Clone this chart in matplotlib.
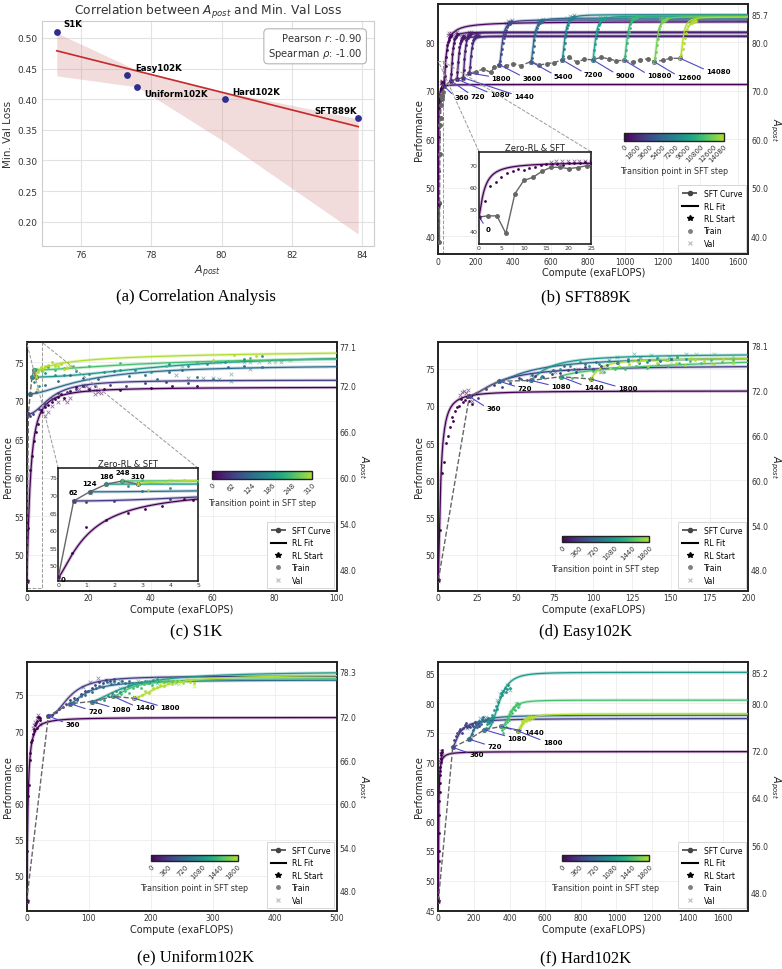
import numpy as np
import matplotlib
matplotlib.use("Agg")
import matplotlib.pyplot as plt
from matplotlib.colors import Normalize, ListedColormap
from matplotlib.cm import ScalarMappable
from matplotlib.lines import Line2D
from mpl_toolkits.axes_grid1.inset_locator import mark_inset

W, H = 782, 970

# ---------------- (a) correlation ----------------
NAMES = ["S1K", "Easy102K", "Uniform102K", "Hard102K", "SFT889K"]
A_POST = [75.3, 77.3, 77.6, 80.1, 83.9]
VAL_LOSS = [0.51, 0.44, 0.42, 0.40, 0.37]
BAND_X = [75.3, 77.6, 80.1, 83.9]
BAND_HI = [0.508, 0.447, 0.412, 0.368]
BAND_LO = [0.438, 0.420, 0.330, 0.180]

# ---------------- (b) SFT889K ----------------
B_STEPS = [0, 360, 720, 1080, 1440, 1800, 3600, 5400, 7200, 9000, 10800, 12600, 14080]
B_CBAR_TICKS = [0, 1800, 3600, 5400, 7200, 9000, 10800, 12600, 14080]
B_START_X = [0, 33, 66, 99, 132, 166, 326, 495, 661, 825, 994, 1154, 1293]
B_START_Y = [46.5, 70.9, 72.1, 72.4, 72.7, 73.7, 75.4, 76.0, 76.4, 76.4, 76.3, 76.0, 76.7]
B_ASYM = [71.3, 84.3, 82.1, 81.2, 82.0, 81.3, 84.6, 85.0, 85.7, 85.4, 85.6, 85.3, 85.2]
B_MID = [1.2, 10, 10, 10, 10, 10, 16, 16, 16, 16, 16, 16, 16]
B_EXP = [1.3, 1.0, 2, 2, 2, 2, 2, 2, 2, 2, 2, 2, 2]
B_END = [25, 70, 105, 140, 175, 215, 395, 560, 725, 890, 1060, 1220, 1380]
B_VAL_FROM = [16, 50, 85, 120, 155, 195, 360, 525, 690, 855, 1025, 1185, 1345]
B_TRAIN = [
    [53.5, 60.5, 62.5, 64.5, 66.5, 67.5, 68.2, 67.8, 68.5, 69.2, 70.0, 70.5, 70.3, 70.6, 70.1, 70.8, 71.0, 70.9, 71.2, 70.8],
    [73.0, 75.2, 77.0, 78.4, 79.5, 80.1, 80.8, 80.5, 81.2, 81.0, 81.6, 81.3],
    [73.5, 75.8, 77.6, 78.9, 79.8, 80.6, 80.9, 81.4, 81.1, 81.7, 81.5, 81.8],
    [73.8, 76.0, 77.8, 79.0, 79.9, 80.5, 80.3, 80.9, 81.2, 80.8, 81.1, 81.3],
    [74.2, 76.5, 78.2, 79.5, 80.4, 81.0, 80.8, 81.5, 81.2, 81.8, 81.6, 82.0],
    [75.0, 77.2, 78.8, 79.8, 80.5, 80.9, 81.3, 81.0, 81.5, 81.2, 81.6, 81.4],
    [76.2, 77.5, 78.6, 79.8, 80.9, 81.8, 82.5, 83.1, 83.6, 83.9, 84.2, 83.8, 84.3, 84.1],
    [76.8, 78.0, 79.2, 80.4, 81.5, 82.3, 83.0, 83.5, 83.9, 84.3, 84.0, 84.5, 84.2, 84.6],
    [77.2, 78.6, 79.9, 81.0, 82.0, 82.9, 83.6, 84.2, 84.6, 85.0, 84.8, 85.3, 85.0, 85.4],
    [77.0, 78.4, 79.6, 80.8, 81.9, 82.8, 83.5, 84.0, 84.4, 84.8, 84.6, 85.0, 84.7, 85.1],
    [77.1, 78.5, 79.8, 81.0, 82.1, 83.0, 83.7, 84.2, 84.7, 85.0, 84.8, 85.2, 85.0, 85.3],
    [76.8, 78.1, 79.4, 80.6, 81.8, 82.7, 83.4, 83.9, 84.3, 84.6, 84.4, 84.9, 84.6, 85.0],
    [77.4, 78.6, 79.8, 80.9, 81.9, 82.7, 83.3, 83.8, 84.2, 84.0, 84.4, 84.1, 84.5, 84.3],
]
B_VAL = [
    [71.6, 71.9, 71.8, 72.0, 71.7, 71.9, 71.8, 71.5],
    [81.5, 81.9, 81.6, 82.0], [81.4, 81.9, 82.1, 81.7], [81.0, 81.4, 81.2, 81.6],
    [81.7, 82.1, 81.8, 82.2], [81.5, 81.8, 81.2, 81.6], [84.0, 84.4, 84.2, 84.5],
    [84.3, 84.7, 84.4, 84.8], [85.0, 85.5, 85.2, 85.6], [84.9, 85.3, 85.0, 85.2],
    [85.1, 85.4, 85.0, 85.3], [84.8, 85.1, 84.7, 85.0], [84.2, 84.6, 84.3, 84.5],
]
B_SFT_X = [0, 2, 4, 6, 8, 10, 12, 14, 16, 18, 20, 22, 24, 33, 66, 99, 132, 166, 200, 240, 280,
           300, 326, 360, 400, 440, 495, 540, 580, 620, 661, 700, 740, 780, 825, 870, 910, 950,
           994, 1040, 1080, 1120, 1154, 1200, 1240, 1293]
B_SFT_Y = [46.4, 46.9, 46.9, 38.9, 56.9, 63.0, 64.4, 67.1, 69.0, 69.0, 68.4, 68.9, 69.7, 70.9,
           72.1, 72.4, 72.7, 73.7, 73.9, 74.5, 73.8, 74.9, 75.4, 75.1, 75.6, 75.2, 76.0, 75.3,
           75.6, 75.8, 76.4, 76.9, 75.9, 76.5, 76.4, 76.9, 76.6, 76.2, 76.3, 75.9, 76.4, 76.6,
           76.0, 76.3, 76.7, 76.7]

# ---------------- (c) S1K ----------------
C_STEPS = [0, 62, 124, 186, 248, 310]
C_START_X = [0, 0.55, 1.12, 1.72, 2.29, 2.84]
C_START_Y = [46.6, 68.3, 70.9, 73.1, 74.0, 73.1]
C_ASYM = [71.8, 72.7, 74.7, 76.0, 75.8, 77.1]
C_MID = [1.1, 7.5, 19, 45, 40, 12]
C_EXP = [1.33, 2.0, 1.6, 2.0, 1.5, 0.6]
C_TRAIN_X = [
    [0.5, 1.0, 1.7, 2.5, 3.1, 3.7, 4.5, 4.8, 6, 7, 8, 9, 10, 11, 12, 14, 16, 18, 20, 25, 30, 40, 47, 55],
    [1, 2, 4, 6, 8, 10, 13, 16, 18, 22, 27, 32, 38, 45, 52],
    [3, 6, 10, 14, 18, 23, 28, 33, 38, 42, 46, 50, 55, 60, 65, 70, 76],
    [2.5, 4, 6, 9, 12, 16, 20, 25, 30, 35, 40, 46, 52, 58, 64, 70, 76],
    [3, 5, 7, 9, 12, 15, 20, 30, 45, 55, 65, 72],
    [3.2, 3.8, 4.5, 5.2, 6, 7, 8, 9, 10, 11, 12, 13, 14, 60, 67, 74],
]
C_TRAIN_Y = [
    [53.5, 61.0, 62.8, 64.8, 66.0, 67.0, 68.8, 68.5, 69.2, 69.5, 69.9, 70.3, 70.5, 70.9, 70.4, 71.3, 71.8, 72.0, 71.6, 71.5, 71.4, 71.7, 72.0, 71.9],
    [68.0, 68.3, 69.0, 69.6, 70.2, 71.0, 71.2, 71.5, 71.9, 72.0, 72.1, 71.9, 72.3, 72.5, 72.3],
    [71.2, 72.1, 72.6, 73.4, 73.0, 72.8, 73.9, 73.3, 73.4, 72.8, 73.7, 74.0, 73.1, 72.8, 74.4, 74.6, 74.4],
    [72.5, 72.0, 73.6, 73.4, 73.4, 73.9, 73.5, 73.8, 74.0, 74.0, 73.7, 74.8, 74.5, 74.8, 75.0, 75.5, 75.8],
    [74.2, 73.9, 74.4, 74.0, 74.3, 74.5, 74.6, 74.9, 74.5, 75.0, 75.2, 75.6],
    [71.5, 73.8, 74.4, 74.0, 74.6, 74.7, 75.0, 74.6, 74.5, 74.8, 74.1, 74.3, 74.6, 75.3, 76.0, 75.9],
]
C_VAL_X = [
    [6, 7, 8, 10, 12, 13, 14, 17, 19, 20, 22, 23, 24],
    [18, 20, 22],
    [48, 52, 57, 62, 66, 72],
    [50, 55, 60, 66, 70, 72, 78, 82],
    [62, 68, 75, 80, 85],
    [4, 6, 9, 11, 13],
]
C_VAL_Y = [
    [68.0, 68.5, 69.3, 69.8, 70.3, 69.8, 70.4, 71.6, 71.9, 71.4, 70.9, 71.2, 71.0],
    [72.1, 71.7, 71.4],
    [73.4, 73.0, 73.0, 72.9, 72.6, 74.2],
    [74.6, 74.9, 73.0, 73.5, 75.1, 75.0, 75.1, 75.1],
    [75.0, 75.2, 75.0, 75.1, 75.3],
    [74.2, 74.4, 74.8, 74.9, 74.5],
]

# ---------------- (d) Easy102K ----------------
D_STEPS = [0, 360, 720, 1080, 1440, 1800]
D_START_X = [0, 20.0, 39.4, 59.8, 79.1, 98.4]
D_START_Y = [46.6, 71.25, 73.3, 73.4, 73.9, 73.6]
D_ASYM = [72.0, 75.4, 76.6, 77.0, 78.1, 76.4]
D_MID = [1.5, 20, 25, 12, 150, 6]
D_EXP = [1.4, 1.5, 1.3, 1.2, 0.7, 1.2]
D_END = [22, 105, 150, 160, 190, 190]
D_VAL_FROM = [14, 60, 110, 115, 130, 150]
D_TRAIN = [
    [53.3, 61.0, 62.4, 65.0, 66.0, 67.2, 68.5, 68.0, 69.3, 69.8, 70.0, 70.9, 70.5, 70.8, 71.2, 70.6, 71.3, 70.3],
    [71.0, 72.2, 72.8, 72.5, 73.1, 73.7, 73.4, 74.0, 73.8, 74.3, 74.4, 74.8, 74.6, 75.2, 75.0, 75.4],
    [73.0, 73.6, 74.2, 74.0, 74.8, 75.3, 75.0, 75.6, 75.9, 75.5, 75.7, 76.0, 75.8, 76.2, 76.0, 76.3],
    [73.8, 74.5, 75.0, 75.4, 75.9, 75.3, 75.6, 76.0, 75.8, 76.3, 76.1, 75.9, 76.4, 76.2, 76.5, 76.3],
    [73.7, 74.2, 74.7, 74.5, 75.0, 74.9, 75.3, 75.1, 75.6, 75.4, 75.8, 76.0, 75.7, 76.1, 75.9, 76.2],
    [74.6, 75.1, 75.3, 75.6, 75.9, 75.4, 75.8, 76.1, 75.7, 75.5, 76.2, 76.0, 75.6, 76.3, 75.8],
]
D_VAL = [
    [71.5, 71.9, 72.0, 71.7, 72.1, 71.3, 70.6],
    [74.2, 74.6, 75.0, 74.5],
    [76.2, 76.5, 76.3],
    [76.6, 76.9, 76.8, 76.6, 77.0],
    [76.4, 76.6, 76.5, 76.9, 77.0, 76.7],
    [75.9, 76.5, 75.6, 75.9],
]

# ---------------- (e) Uniform102K ----------------
E_STEPS = [0, 360, 720, 1080, 1440, 1800]
E_START_X = [0, 34.9, 69.8, 104.8, 139.8, 173.1]
E_START_Y = [46.6, 72.1, 73.8, 74.1, 74.8, 74.55]
E_ASYM = [71.9, 77.6, 77.1, 78.3, 77.3, 77.8]
E_MID = [2, 35, 30, 60, 30, 45]
E_EXP = [1.3, 2.2, 1.5, 1.5, 1.5, 1.6]
E_END = [22, 140, 165, 210, 240, 270]
E_VAL_FROM = [10, 90, 120, 150, 190, 220]
E_TRAIN = [
    [53.5, 61.0, 62.5, 66.0, 67.0, 68.5, 68.8, 69.6, 70.3, 70.0, 70.8, 71.2, 70.5, 71.4, 71.9, 72.0, 71.6, 71.8],
    [72.3, 72.6, 73.0, 73.4, 73.7, 74.3, 74.6, 74.4, 75.1, 75.5, 75.6, 76.0, 76.4, 76.8, 76.6, 77.1, 76.9, 77.2],
    [73.9, 74.3, 74.8, 75.0, 75.6, 75.4, 76.0, 76.3, 76.1, 76.8, 76.5, 76.9, 76.6, 77.0, 76.7, 76.9],
    [74.0, 74.4, 74.3, 74.9, 75.3, 75.6, 75.4, 76.0, 76.2, 76.6, 76.3, 76.8, 77.0, 76.7, 77.1, 77.2],
    [74.8, 75.2, 75.6, 75.3, 75.9, 76.2, 76.0, 76.5, 76.7, 76.4, 76.9, 77.1, 76.8, 77.2, 76.9, 77.0],
    [74.7, 75.0, 75.5, 75.3, 75.9, 76.1, 76.4, 76.2, 76.7, 76.5, 76.9, 77.0, 76.6, 77.2, 76.8, 76.6],
]
E_VAL = [
    [70.4, 70.9, 71.3, 71.8, 72.2, 71.5, 71.0],
    [76.1, 76.8, 77.3, 77.1, 76.7],
    [76.3, 76.8, 77.0, 76.5],
    [76.0, 76.4, 76.9, 77.0, 76.7],
    [76.8, 77.3, 77.0, 76.6],
    [76.7, 77.1, 76.5, 76.9, 76.3],
]

# ---------------- (f) Hard102K ----------------
F_STEPS = [0, 360, 720, 1080, 1440, 1800]
F_START_X = [0, 81, 174, 259, 352, 446]
F_START_Y = [46.5, 72.5, 73.9, 75.5, 76.05, 75.3]
F_ASYM = [71.8, 77.4, 77.95, 85.2, 80.5, 78.2]
F_MID = [2, 40, 35, 85, 50, 30]
F_EXP = [1.2, 1.5, 1.5, 3, 2.5, 1.5]
F_END = [20, 230, 300, 400, 455, 530]
F_VAL_FROM = [5, 160, 220, 330, 400, 480]
F_TRAIN = [
    [47.0, 53.3, 55.0, 58.0, 61.0, 63.5, 65.0, 66.5, 67.8, 68.6, 69.2, 70.0, 70.5, 71.2, 70.8, 71.5, 71.8, 72.0],
    [73.8, 74.5, 74.9, 75.3, 75.6, 75.0, 75.8, 76.3, 76.6, 75.9, 76.2, 76.0, 76.5, 76.2, 76.8, 76.4, 76.6, 76.1],
    [74.0, 74.8, 75.5, 75.9, 76.4, 76.0, 76.8, 77.0, 76.5, 77.3, 77.6, 76.9, 77.2, 77.0, 77.5, 76.8, 77.2, 77.4],
    [75.8, 76.5, 77.0, 76.6, 77.5, 78.0, 77.7, 78.8, 79.5, 79.0, 80.2, 81.0, 81.7, 81.4, 82.0, 82.6, 81.8, 82.3, 83.0, 82.5],
    [75.5, 75.0, 75.8, 76.4, 76.0, 76.8, 77.5, 77.2, 78.0, 78.6, 78.3, 79.0, 79.4, 78.8, 79.6, 80.0, 79.3, 79.8],
    [75.3, 75.8, 76.2, 76.5, 76.9, 76.6, 77.1, 77.3, 76.9, 77.4, 77.6, 77.2, 77.5, 77.7, 77.4, 77.6],
]
F_VAL = [
    [69.0, 70.0, 70.6, 71.4, 71.9, 71.3],
    [75.8, 76.3, 76.0, 76.5],
    [76.8, 77.5, 77.0, 77.6, 77.1, 76.9],
    [80.5, 81.5, 82.0, 81.8, 83.0, 82.2],
    [78.5, 79.2, 80.1, 79.5],
    [77.0, 77.5, 77.3, 77.8, 77.5],
]

# label offsets (pixels) from the RL start point
B_OFFS = [None, (10, -11), (20, -15), (33, -15), (51, -18), (22, -5), (23, -13), (23, -14),
          (22, -14), (23, -15), (23, -15), (23, -15), (26, -13)]
D_OFFS = [None, (17, -12), (18, -7), (20, -6), (23, -10), (27, -9)]
E_OFFS = [None, (17, -8), (18, -7), (20, -7), (22, -11), (26, -9)]
F_OFFS = [None, (17, -7), (18, -7), (23, -8), (23, -6), (25, -11)]

CMAP = ListedColormap(plt.cm.viridis(np.linspace(0, 0.88, 256)))
LINE_BLUE = "#4b4bc8"


def px_rect(l, r, t, b):
    return [l / W, 1 - b / H, (r - l) / W, (b - t) / H]


def rl_fit(d, y0, a, m, k):
    d = np.clip(d, 0, None)
    return y0 + (a - y0) * d ** k / (d ** k + m ** k)


def spread(x0, x1, vals, skip_first=True):
    xs = np.linspace(x0, x1, len(vals) + (1 if skip_first else 0))
    return list(xs[1:] if skip_first else xs)


def build(steps, sx, sy, asym, mid, expo, end, val_from, train, val):
    tx = [spread(sx[i], end[i], train[i]) for i in range(len(steps))]
    vx = [spread(val_from[i], end[i], val[i], False) for i in range(len(steps))]
    return dict(steps=steps, sx=sx, sy=sy, asym=asym, mid=mid, expo=expo,
                tx=tx, ty=train, vx=vx, vy=val)


def style(ax, fs=5.5, lw=1.4):
    ax.set_facecolor("white")
    ax.grid(True, color="#ececec", lw=0.6)
    ax.set_axisbelow(True)
    for s in ax.spines.values():
        s.set_color("#222")
        s.set_linewidth(lw)
    ax.tick_params(length=0, labelsize=fs, pad=2, colors="#333")


def draw_runs(ax, p, norm, x_right, sft_x, sft_y, sft_ls="--"):
    for i, st in enumerate(p["steps"]):
        c = CMAP(norm(st))
        xx = np.linspace(p["sx"][i], x_right, 500)
        yy = rl_fit(xx - p["sx"][i], p["sy"][i], p["asym"][i], p["mid"][i], p["expo"][i])
        ax.plot(xx, yy, color=c, lw=2.3, alpha=0.28, zorder=2)
        ax.plot(xx, yy, color=c, lw=0.9, zorder=3)
        ax.scatter(p["tx"][i], p["ty"][i], s=4, color=c, lw=0, zorder=4)
        ax.scatter(p["vx"][i], p["vy"][i], s=7, marker="x", color=c, alpha=0.55, lw=0.6, zorder=4)
    ax.plot(sft_x, sft_y, color="#666", ls=sft_ls, lw=1.0, marker="o", ms=2.5, zorder=5)
    for i, st in enumerate(p["steps"]):
        ax.plot(p["sx"][i], p["sy"][i], marker="*", ms=5, color=CMAP(norm(st)), mec="none", zorder=6)


def add_labels(ax, p, offs):
    for i, st in enumerate(p["steps"]):
        if offs[i] is None:
            continue
        dx, dy = offs[i]
        ax.annotate(str(st), (p["sx"][i], p["sy"][i]), xytext=(dx * 0.72, dy * 0.72),
                    textcoords="offset points", fontsize=5, fontweight="bold", ha="left", va="center",
                    arrowprops=dict(arrowstyle="-", color=LINE_BLUE, lw=0.8, shrinkA=0, shrinkB=0,
                                    relpos=(0, 0.7)), zorder=7, annotation_clip=False)


def add_cbar(fig, rect, ticks, norm):
    cax = fig.add_axes(px_rect(*rect))
    cb = fig.colorbar(ScalarMappable(norm=norm, cmap=CMAP), cax=cax, orientation="horizontal")
    cb.outline.set_linewidth(1.0)
    cb.outline.set_edgecolor("#222")
    cax.tick_params(labelsize=5, length=0, pad=1.5, colors="#333")
    cax.set_xticks(ticks)
    cax.set_xticklabels([str(s) for s in ticks], rotation=45, ha="right", rotation_mode="anchor")
    cb.set_label("Transition point in SFT step", fontsize=5.8, labelpad=2, color="#333")


def add_legend(ax):
    handles = [
        Line2D([], [], color="#444", ls="--", marker="o", ms=3, lw=1.2),
        Line2D([], [], color="black", lw=1.5),
        Line2D([], [], ls="none", marker="*", color="black", ms=4),
        Line2D([], [], ls="none", marker="o", color="gray", ms=2.5),
        Line2D([], [], ls="none", marker="x", color="#c8c8c8", ms=3),
    ]
    labels = ["SFT Curve", "RL Fit", "RL Start", "Train", "Val"]
    leg = ax.legend(handles, labels, loc="lower right", fontsize=5.5, frameon=True, framealpha=1,
                    fancybox=False, edgecolor="#d0d0d0", handlelength=2.0, borderpad=0.5,
                    labelspacing=0.45, borderaxespad=0.3)
    leg.get_frame().set_linewidth(0.6)
    leg.set_zorder(10)


def main_panel(fig, rect, p, sft_x, sft_y, xlim, ylim, xticks, yticks, rticks, offs, cbar_rect,
               cbar_ticks=None):
    ax = fig.add_axes(px_rect(*rect))
    style(ax)
    norm = Normalize(0, max(p["steps"]))
    draw_runs(ax, p, norm, xlim[1], sft_x, sft_y)
    if offs is not None:
        add_labels(ax, p, offs)
    ax.set_xlim(*xlim)
    ax.set_ylim(*ylim)
    ax.set_xticks(xticks)
    ax.set_yticks(yticks)
    ax.set_xlabel("Compute (exaFLOPS)", fontsize=7, labelpad=1, color="#222")
    ax.set_ylabel("Performance", fontsize=7, labelpad=1, color="#222")
    ax2 = ax.twinx()
    ax2.set_ylim(*ylim)
    ax2.set_yticks(rticks)
    ax2.set_yticklabels([f"{t:.1f}" for t in rticks])
    ax2.tick_params(length=0, labelsize=5.5, pad=2, colors="#333")
    for s in ax2.spines.values():
        s.set_visible(False)
    ax2.set_ylabel("$A_{post}$", rotation=270, fontsize=7, labelpad=10, color="#222")
    add_legend(ax)
    add_cbar(fig, cbar_rect, cbar_ticks if cbar_ticks is not None else p["steps"], norm)
    return ax, norm


def inset_panel(fig, ax, rect, p, norm, sft_x, sft_y, xlim, ylim, xticks, yticks):
    axins = fig.add_axes(px_rect(*rect))
    style(axins, fs=4.5, lw=1.2)
    axins.grid(False)
    draw_runs(axins, p, norm, xlim[1], sft_x, sft_y, sft_ls="-")
    axins.set_xlim(*xlim)
    axins.set_ylim(*ylim)
    axins.set_xticks(xticks)
    axins.set_yticks(yticks)
    axins.tick_params(pad=1)
    axins.set_title("Zero-RL & SFT", fontsize=6, pad=1.5, color="#222")
    mark_inset(ax, axins, loc1=2, loc2=1, fc="none", ec="#999", ls="--", lw=0.7)
    return axins


fig = plt.figure(figsize=(W / 100, H / 100), dpi=100)

# ---------------- panel (a) ----------------
axa = fig.add_axes(px_rect(41.7, 374, 21.7, 246.7))
axa.set_facecolor("white")
axa.grid(True, color="#e2e2e2", lw=0.8)
axa.set_axisbelow(True)
for s in axa.spines.values():
    s.set_color("#cccccc")
    s.set_linewidth(0.8)
axa.tick_params(length=0, labelsize=6.5, pad=3, colors="#333")
axa.fill_between(BAND_X, BAND_LO, BAND_HI, color="#d48a8a", alpha=0.3, lw=0)
coef = np.polyfit(A_POST, VAL_LOSS, 1)
xl = np.array([min(A_POST), max(A_POST)])
axa.plot(xl, np.polyval(coef, xl), color="#c62828", lw=1.2, zorder=2)
axa.scatter(A_POST, VAL_LOSS, s=24, color="#2e2e8f", zorder=3, lw=0)
a_offs = [(7, 8, "left"), (8, 7, "left"), (7, -7, "left"), (7, 8, "left"), (-1, 7, "right")]
for name, x, y, (dx, dy, ha) in zip(NAMES, A_POST, VAL_LOSS, a_offs):
    axa.annotate(name, (x, y), xytext=(dx * 0.72, dy * 0.72), textcoords="offset points",
                 fontsize=6.2, fontweight="bold", ha=ha, va="center")
pear = np.corrcoef(A_POST, VAL_LOSS)[0, 1]
rank_x = np.argsort(np.argsort(A_POST))
rank_y = np.argsort(np.argsort(VAL_LOSS))
spear = np.corrcoef(rank_x, rank_y)[0, 1]
axa.text(0.965, 0.955, f"Pearson $r$: {pear:.2f}\nSpearman $\\rho$: {spear:.2f}", transform=axa.transAxes,
         ha="right", va="top", fontsize=7.2, color="#333", linespacing=1.3,
         bbox=dict(boxstyle="round,pad=0.4", fc="white", ec="#aaaaaa", lw=0.7))
axa.set_xlim(74.87, 84.35)
axa.set_ylim(0.161, 0.528)
axa.set_xticks([76, 78, 80, 82, 84])
axa.set_yticks([0.20, 0.25, 0.30, 0.35, 0.40, 0.45, 0.50])
axa.set_yticklabels([f"{v:.2f}" for v in [0.20, 0.25, 0.30, 0.35, 0.40, 0.45, 0.50]])
axa.set_xlabel("$A_{post}$", fontsize=8, color="#333", labelpad=3)
axa.set_ylabel("Min. Val Loss", fontsize=7.5, color="#333", labelpad=3)
axa.set_title("Correlation between $A_{post}$ and Min. Val Loss", fontsize=8.8, color="#333", pad=5)

# ---------------- panel (b) ----------------
pb = build(B_STEPS, B_START_X, B_START_Y, B_ASYM, B_MID, B_EXP, B_END, B_VAL_FROM, B_TRAIN, B_VAL)
axb, normb = main_panel(fig, (438.3, 748.3, 5, 255), pb, B_SFT_X, B_SFT_Y, (0, 1657), (36.35, 87.9),
                        range(0, 1601, 200), range(40, 81, 10), [40, 50, 60, 70, 80, 85.7], B_OFFS,
                        (624.3, 723.7, 134.3, 141.7), cbar_ticks=B_CBAR_TICKS)
insb = inset_panel(fig, axb, (479, 591, 152.7, 245), pb, normb, B_SFT_X, B_SFT_Y, (0, 25), (34.1, 76.1),
                   range(0, 26, 5), range(40, 71, 10))
insb.annotate("0", (B_START_X[0], B_START_Y[0]), xytext=(7 * 0.72, -12 * 0.72), textcoords="offset points",
              fontsize=5, fontweight="bold", ha="left", va="center",
              arrowprops=dict(arrowstyle="-", color=LINE_BLUE, lw=0.8, shrinkA=0, shrinkB=0, relpos=(0, 0.7)))

# ---------------- panel (c) ----------------
pc = dict(steps=C_STEPS, sx=C_START_X, sy=C_START_Y, asym=C_ASYM, mid=C_MID, expo=C_EXP,
          tx=C_TRAIN_X, ty=C_TRAIN_Y, vx=C_VAL_X, vy=C_VAL_Y)
axc, normc = main_panel(fig, (26.7, 336.7, 342.7, 591.7), pc, C_START_X, C_START_Y, (0, 100), (45.3, 77.7),
                        range(0, 101, 20), range(50, 76, 5), [48, 54, 60, 66, 72, 77.1], None,
                        (212, 312, 472, 480))
insc = inset_panel(fig, axc, (58.3, 198.3, 469.3, 581.7), pc, normc, C_START_X, C_START_Y, (0, 5),
                   (45.6, 77.6), range(0, 6), range(50, 76, 5))
for st, x, y in zip(C_STEPS, C_START_X, C_START_Y):
    if st == 0:
        insc.annotate("0", (x, y), xytext=(2, -1), textcoords="offset points", fontsize=5,
                      fontweight="bold", ha="left", va="center")
    else:
        insc.annotate(str(st), (x, y), xytext=(0, 4), textcoords="offset points", fontsize=5,
                      fontweight="bold", ha="center", va="bottom")

# ---------------- panel (d) ----------------
pd_ = build(D_STEPS, D_START_X, D_START_Y, D_ASYM, D_MID, D_EXP, D_END, D_VAL_FROM, D_TRAIN, D_VAL)
main_panel(fig, (438.3, 748.3, 342.7, 591.7), pd_, D_START_X, D_START_Y, (0, 200), (45.2, 78.6),
           range(0, 201, 25), range(50, 76, 5), [48, 54, 60, 66, 72, 78.1], D_OFFS,
           (561.7, 649.3, 536.7, 542.7))

# ---------------- panel (e) ----------------
pe = build(E_STEPS, E_START_X, E_START_Y, E_ASYM, E_MID, E_EXP, E_END, E_VAL_FROM, E_TRAIN, E_VAL)
main_panel(fig, (26.7, 336.7, 662.7, 911.7), pe, E_START_X, E_START_Y, (0, 500), (45.2, 79.6),
           range(0, 501, 100), range(50, 76, 5), [48, 54, 60, 66, 72, 78.3], E_OFFS,
           (150.7, 237.7, 856, 862))

# ---------------- panel (f) ----------------
pf = build(F_STEPS, F_START_X, F_START_Y, F_ASYM, F_MID, F_EXP, F_END, F_VAL_FROM, F_TRAIN, F_VAL)
main_panel(fig, (438.3, 748.3, 662.7, 911.7), pf, F_START_X, F_START_Y, (0, 1740), (44.9, 87.0),
           range(0, 1601, 200), range(45, 86, 5), [48, 56, 64, 72, 80, 85.2], F_OFFS,
           (561.7, 649.3, 856, 862))

# captions
for text, x, y in [("(a) Correlation Analysis", 196, 297), ("(b) SFT889K", 586, 297),
                   ("(c) S1K", 196, 632), ("(d) Easy102K", 586, 632),
                   ("(e) Uniform102K", 196, 958), ("(f) Hard102K", 586, 958)]:
    fig.text(x / W, 1 - y / H, text, ha="center", va="center", fontsize=12, family="Liberation Serif")

fig.savefig("out.png", dpi=100)
